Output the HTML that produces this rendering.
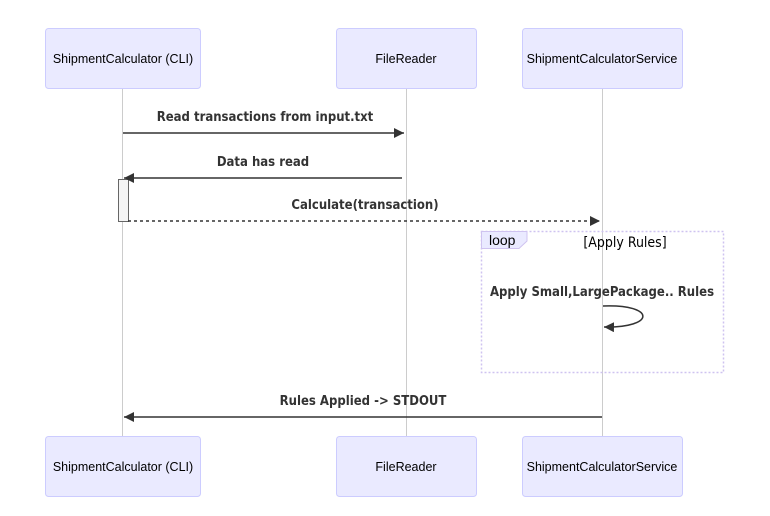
<!DOCTYPE html>
<html><head><meta charset="utf-8"><style>
html,body{margin:0;padding:0;background:#fff;}
svg{display:block}
.a{font-family:"Liberation Sans",Arial,sans-serif;font-size:12.5px;fill:#000}
.m{font-family:"DejaVu Sans Condensed","DejaVu Sans","Liberation Sans",sans-serif;font-size:13px;font-weight:bold;fill:#333}
</style></head><body>
<svg width="770" height="516" viewBox="0 0 770 516" xmlns="http://www.w3.org/2000/svg">
<defs>
<marker id="ar" markerWidth="12" markerHeight="12" refX="10" refY="5" orient="auto" markerUnits="userSpaceOnUse"><path d="M0,0 L10,5 L0,10 z" fill="#333"/></marker>
</defs>
<g stroke="#ccc" stroke-width="1">
<line x1="122.5" y1="88" x2="122.5" y2="436"/>
<line x1="406.5" y1="88" x2="406.5" y2="436"/>
<line x1="602.5" y1="88" x2="602.5" y2="436"/>
</g>
<g fill="#eaeaff" stroke="#ccccff">
<rect x="45.5" y="28.5" width="155" height="60" rx="3"/>
<rect x="336.5" y="28.5" width="140" height="60" rx="3"/>
<rect x="522.5" y="28.5" width="160" height="60" rx="3"/>
<rect x="45.5" y="436.5" width="155" height="60" rx="3"/>
<rect x="336.5" y="436.5" width="140" height="60" rx="3"/>
<rect x="522.5" y="436.5" width="160" height="60" rx="3"/>
</g>
<g class="a" text-anchor="middle">
<text x="123" y="63">ShipmentCalculator (CLI)</text>
<text x="406" y="63">FileReader</text>
<text x="602" y="63">ShipmentCalculatorService</text>
<text x="123" y="471">ShipmentCalculator (CLI)</text>
<text x="406" y="471">FileReader</text>
<text x="602" y="471">ShipmentCalculatorService</text>
</g>
<rect x="118.5" y="179.5" width="10" height="42" fill="#f4f4f4" stroke="#666"/>
<line x1="123" y1="133" x2="404" y2="133" stroke="#333" stroke-width="1.5" marker-end="url(#ar)"/>
<line x1="402" y1="178" x2="124" y2="178" stroke="#333" stroke-width="1.5" marker-end="url(#ar)"/>
<line x1="128" y1="221" x2="600" y2="221" stroke="#333" stroke-width="1.5" stroke-dasharray="3,3" marker-end="url(#ar)"/>
<line x1="602" y1="417" x2="124" y2="417" stroke="#333" stroke-width="1.5" marker-end="url(#ar)"/>
<g class="m" text-anchor="middle">
<text x="265" y="121">Read transactions from input.txt</text>
<text x="263" y="166">Data has read</text>
<text x="365" y="209">Calculate(transaction)</text>
<text x="602" y="296">Apply Small,LargePackage.. Rules</text>
<text x="363" y="405">Rules Applied -&gt; STDOUT</text>
</g>
<rect x="481.5" y="231.5" width="242" height="141" fill="none" stroke="#cfc3f0" stroke-width="1.5" stroke-dasharray="2,2"/>
<path d="M481.5,231.5 H527 V241 L519,248.5 H481.5 Z" fill="#eaeaff" stroke="#cfc3f0"/>
<text x="489" y="245" font-family="Liberation Sans,sans-serif" font-size="14" fill="#000">loop</text>
<text x="625" y="247" font-family="DejaVu Sans Condensed,DejaVu Sans,sans-serif" font-size="14" fill="#000" text-anchor="middle">[Apply Rules]</text>
<path d="M603,306 C656,304 656,328 604,327" fill="none" stroke="#333" stroke-width="1.5" marker-end="url(#ar)"/>
</svg>
</body></html>
